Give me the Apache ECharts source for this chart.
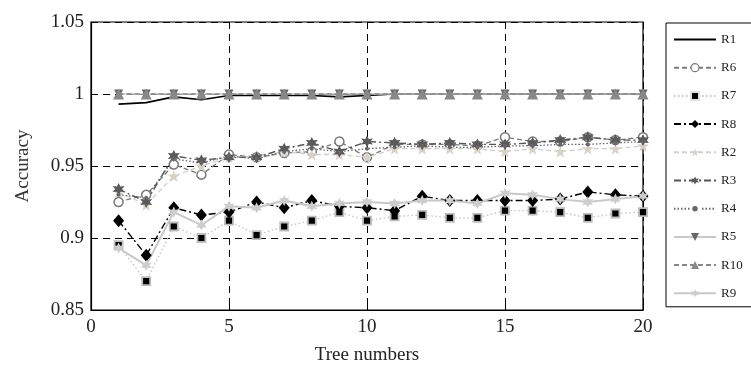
<!DOCTYPE html>
<html><head><meta charset="utf-8">
<script src="https://cdn.jsdelivr.net/npm/echarts@6/dist/echarts.min.js"></script>
<style>html,body{margin:0;padding:0;background:#fff}#c{width:751px;height:370px}</style>
</head><body><div id="c"></div>
<script>
const treeNumbers = [1,2,3,4,5,6,7,8,9,10,11,12,13,14,15,16,17,18,19,20];
const R1  = [0.993,0.994,0.998,0.996,0.999,0.999,0.999,0.999,0.998,0.999,1,1,1,1,1,1,1,1,1,1];
const R6  = [0.925,0.930,0.951,0.944,0.958,0.956,0.959,0.960,0.967,0.956,0.965,0.965,0.965,0.964,0.970,0.967,0.967,0.970,0.968,0.970];
const R7  = [0.895,0.870,0.908,0.900,0.912,0.902,0.908,0.912,0.918,0.912,0.915,0.916,0.914,0.914,0.919,0.919,0.918,0.914,0.917,0.918];
const R8  = [0.912,0.888,0.921,0.916,0.918,0.925,0.921,0.926,0.922,0.921,0.919,0.929,0.926,0.926,0.926,0.926,0.927,0.932,0.930,0.929];
const R2  = [0.932,0.923,0.943,0.950,0.956,0.957,0.960,0.958,0.958,0.956,0.962,0.962,0.962,0.962,0.960,0.962,0.960,0.962,0.962,0.964];
const R3  = [0.934,0.925,0.957,0.954,0.956,0.956,0.962,0.966,0.960,0.967,0.966,0.965,0.966,0.965,0.965,0.966,0.968,0.970,0.968,0.968];
const R4  = [0.930,0.928,0.955,0.952,0.957,0.955,0.960,0.962,0.960,0.962,0.963,0.964,0.963,0.963,0.964,0.964,0.965,0.965,0.966,0.967];
const R5  = [1,1,1,1,1,1,1,1,1,1,1,1,1,1,1,1,1,1,1,1];
const R10 = [1,1,1,1,1,1,1,1,1,1,1,1,1,1,1,1,1,1,1,1];
const R9  = [0.893,0.881,0.918,0.909,0.922,0.921,0.926,0.922,0.924,0.925,0.924,0.926,0.926,0.924,0.931,0.930,0.927,0.925,0.927,0.929];
const xTicks = [0,5,10,15,20];
const yTicks = [0.85,0.9,0.95,1,1.05];
const legendOrder = ['R1','R6','R7','R8','R2','R3','R4','R5','R10','R9'];

const STAR5 = 'path://M50,0 L61.8,33.8 L97.6,34.5 L69,56.2 L79.4,90.5 L50,70 L20.6,90.5 L31,56.2 L2.4,34.5 L38.2,33.8 Z';
const STAR6 = 'path://M50,0 L62.5,28.35 L93.3,25 L75,50 L93.3,75 L62.5,71.65 L50,100 L37.5,71.65 L6.7,75 L25,50 L6.7,25 L37.5,28.35 Z';
const FONT = 'Liberation Serif';

function pairs(arr){ return treeNumbers.map((x,i)=>[x,arr[i]]); }
function s(name, data, line, sym){
  const o = {
    name, type:'line', data:pairs(data), animation:false,
    lineStyle: line, color: line.color
  };
  if (sym) {
    o.symbol = sym.symbol; o.symbolSize = sym.size; o.itemStyle = sym.style;
    if (sym.rotate) o.symbolRotate = sym.rotate;
  } else {
    o.symbol = 'none'; o.itemStyle = {color: line.color};
  }
  return o;
}

const series = [
  s('R1', R1, {color:'#000', width:1.6, type:'solid'}, null),
  s('R6', R6, {color:'#7a7a7a', width:1.3, type:[5,3]}, {symbol:'circle', size:9, style:{color:'#fff', borderColor:'#7a7a7a', borderWidth:1.5}}),
  s('R7', R7, {color:'#c4c4c4', width:1.4, type:[1.5,2.5]}, {symbol:'rect', size:8, style:{color:'#000', borderColor:'#bdbdbd', borderWidth:1.8}}),
  s('R8', R8, {color:'#000', width:1.4, type:[7,3,2,3]}, {symbol:'diamond', size:[11,13], style:{color:'#000'}}),
  s('R2', R2, {color:'#cfcfcf', width:1.3, type:[5,3]}, {symbol:STAR5, size:12, style:{color:'#d6d2ca'}}),
  s('R3', R3, {color:'#555', width:1.4, type:[7,3,2,3]}, {symbol:STAR6, size:12, style:{color:'#5a5a5a'}}),
  s('R4', R4, {color:'#666', width:1.3, type:[1.5,2]}, {symbol:'circle', size:4, style:{color:'#666'}}),
  s('R5', R5, {color:'#c8c8c8', width:1.6, type:'solid'}, {symbol:'triangle', size:9, rotate:180, style:{color:'#666'}}),
  s('R10', R10, {color:'#888', width:1.3, type:[5,3]}, {symbol:'triangle', size:11, style:{color:'#888'}}),
  s('R9', R9, {color:'#c8c8c8', width:2, type:'solid'}, {symbol:STAR6, size:11, style:{color:'#cdcdcd'}})
];

const legendData = legendOrder.map(n => {
  const d = {name:n};
  if (n === 'R1') d.itemStyle = {opacity:0};
  if (n === 'R6') d.itemStyle = {color:'#fff', borderColor:'#7a7a7a', borderWidth:1.2};
  if (n === 'R7') d.itemStyle = {color:'#000', borderColor:'#e0e0e0', borderWidth:2};
  if (n === 'R4') d.itemStyle = {color:'#666', borderColor:'#fff', borderWidth:2.5};
  return d;
});

const chart = echarts.init(document.getElementById('c'), null, {renderer:'canvas'});
chart.setOption({
  backgroundColor:'#fff',
  textStyle:{fontFamily:FONT},
  grid:{left:91, top:22, width:552, height:289, show:true, borderColor:'#000', borderWidth:1.2, backgroundColor:'transparent'},
  xAxis:{
    type:'value', min:xTicks[0], max:xTicks[xTicks.length-1], interval:xTicks[1]-xTicks[0],
    name:'Tree numbers', nameLocation:'middle', nameGap:36,
    nameTextStyle:{fontFamily:FONT, fontSize:19, color:'#222'},
    axisLine:{show:true, lineStyle:{color:'#000', width:1.2}},
    axisTick:{show:true, inside:true, length:5, lineStyle:{color:'#000'}},
    axisLabel:{fontFamily:FONT, fontSize:19, color:'#222', margin:8},
    splitLine:{show:true, lineStyle:{color:'#000', type:[7,5], width:1}}
  },
  yAxis:{
    type:'value', min:yTicks[0], max:yTicks[yTicks.length-1], interval:0.05,
    name:'Accuracy', nameLocation:'middle', nameGap:58, nameRotate:90,
    nameTextStyle:{fontFamily:FONT, fontSize:19, color:'#333'},
    axisLine:{show:true, lineStyle:{color:'#000', width:1.2}},
    axisTick:{show:true, inside:true, length:5, lineStyle:{color:'#000'}},
    axisLabel:{fontFamily:FONT, fontSize:19, color:'#222', margin:7,
      formatter:v=>String(+v.toFixed(2))},
    splitLine:{show:true, lineStyle:{color:'#000', type:[7,5], width:1}}
  },
  legend:{
    orient:'vertical', left:666, top:23,
    itemWidth:42, itemHeight:10, itemGap:15.2,
    padding:[10,10,7,7],
    borderColor:'#000', borderWidth:1, backgroundColor:'#fff',
    textStyle:{fontFamily:FONT, fontSize:13, color:'#222'},
    data:legendData
  },
  series
});
</script></body></html>
